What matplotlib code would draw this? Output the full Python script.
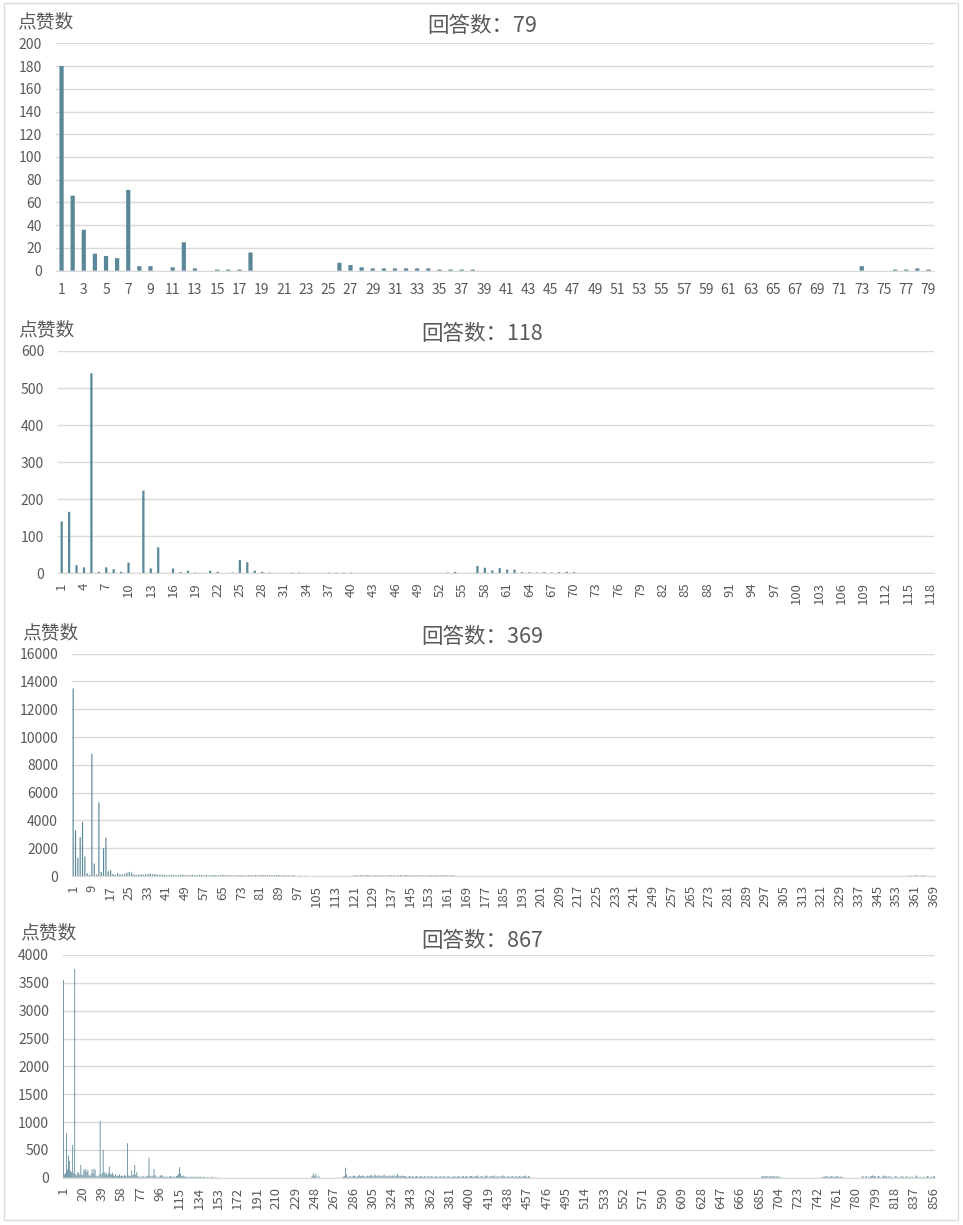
import matplotlib
matplotlib.use("Agg")
import matplotlib.pyplot as plt
from matplotlib.patches import Rectangle

plt.rcParams['font.family'] = ['Noto Sans CJK SC', 'DejaVu Sans']

W, H = 963, 1225
BAR = '#5a8898'
GRID = '#d9d9d9'
TXT = '#595959'

# ---- data: likes per answer, in answer order ----
likes_79 = [180, 66, 36, 15, 13, 11, 71, 4, 4, 0,
            3, 25, 2, 0, 1, 1, 1, 16, 0, 0,
            0, 0, 0, 0, 0, 7, 5, 3, 2, 2,
            2, 2, 2, 2, 1, 1, 1, 1, 0, 0] + [0] * 32 + [4, 0, 0, 1, 1, 2, 1]

likes_118 = [140, 166, 22, 16, 540, 4, 16, 11, 4, 29,
             0, 223, 13, 70, 0, 13, 3, 7, 2, 0,
             7, 4, 0, 2, 36, 30, 7, 4, 2, 0,
             1, 2, 2, 1, 0, 0, 2, 2, 2, 2,
             1, 0, 0, 0, 0, 0, 0, 0, 0, 0,
             0, 0, 2, 4, 0, 0, 20, 15, 8, 14,
             10, 10, 3, 3, 2, 3, 2, 3, 4, 3] + [0] * 48

likes_369_head = [13500, 3300, 1300, 2800, 3900, 1400, 200, 80, 8800, 900,
                  100, 5300, 300, 2000, 2750, 350, 400, 150, 100, 220,
                  120, 90, 160, 230, 300, 250, 120, 80, 100, 130,
                  90, 110, 150, 180, 120, 140, 100, 80, 110, 90,
                  70, 60, 80, 90, 60, 70, 100, 80, 60, 50,
                  70, 90, 60, 50, 80, 70, 60, 90, 50, 60,
                  70, 80, 50, 60, 90, 70, 40, 60, 50, 30,
                  60, 50, 70, 40, 30, 50, 60, 40, 70, 50,
                  60, 80, 50, 70, 60, 40, 70, 60, 80, 50,
                  60, 40, 50, 30, 60, 20, 0, 30, 0, 20]
likes_369_mid = [40, 50, 30, 60, 40, 50, 70, 40, 30, 50,
                 60, 40, 50, 30, 40, 60, 50, 40, 30, 50,
                 60, 40, 70, 50, 40, 30, 50, 40, 60, 50,
                 40, 30, 50, 60, 40, 50, 30, 40, 50, 60,
                 40, 30, 50, 40]
likes_369_tail = [40, 0, 60, 30, 0, 50, 30, 0]
likes_369 = (likes_369_head + [0] * 20 + likes_369_mid + [0] * 194
             + likes_369_tail + [0] * 3)

likes_867_head = [3550, 60, 80, 800, 150, 400, 300, 120, 100, 590,
                  80, 3750, 60, 40, 100, 90, 50, 230, 60, 40,
                  150, 120, 160, 100, 140, 50, 30, 60, 150, 80,
                  160, 140, 40, 30, 20, 50, 1020, 60, 80, 500,
                  100, 60, 90, 40, 80, 200, 70, 50, 90, 40,
                  30, 60, 20, 40, 30, 60, 20, 40, 30, 20,
                  50, 30, 20, 620, 40, 20, 30, 130, 40, 60,
                  230, 50, 100, 30, 20, 10, 20, 10, 30, 20,
                  10, 20, 30, 40, 360, 30, 20, 40, 30, 160,
                  50, 20, 10, 20, 10, 30, 50, 40, 20, 10,
                  20, 10, 20, 10, 20, 30, 20, 10, 20, 20,
                  10, 30, 40, 60, 190, 80, 30, 20, 40, 20]
likes_867_a = [20, 10, 20, 10, 10, 20, 10, 20, 10, 10, 20, 10, 10, 20, 10, 20,
               10, 10, 20, 10, 0, 10, 20, 0, 10, 0, 20, 10, 0, 10, 0, 10]
likes_867_b = [20, 40, 80, 30, 60, 20, 0, 30]
likes_867_c = [10, 20, 30, 180, 60, 20, 10]
likes_867_d = [20, 30, 10, 20, 40, 30, 20, 10, 30, 20, 50, 30, 20, 40, 30, 20, 10, 30, 40, 20,
               30, 50, 40, 30, 20, 60, 40, 30, 20, 50, 30, 40, 20, 30, 60, 40, 20, 30, 20, 40,
               30, 20, 40, 30, 50, 20, 30, 70, 40, 20, 30, 20, 40, 30, 20, 30, 20, 10, 20, 30,
               20, 10, 30, 20, 10, 20, 30, 20, 10, 20, 30, 20, 20, 10, 30, 20, 10, 20, 30, 10,
               20, 30, 20, 10, 20, 30, 20, 10, 20, 20, 30, 10, 20, 30, 20, 10, 20, 30, 20, 10,
               20, 10, 20, 30, 20, 10, 20, 30, 20, 10, 20, 20, 30, 10, 20, 30, 20, 10, 20, 30,
               30, 20, 10, 20, 30, 20, 40, 20, 10, 20, 30, 20, 10, 20, 30, 40, 20, 10, 20, 30,
               20, 30, 40, 20, 10, 20, 30, 20, 10, 30, 20, 40, 30, 20, 10, 20, 30, 20, 10, 20,
               30, 20, 10, 20, 30, 10, 20, 30, 20, 10, 20, 30, 20, 40, 20, 10, 30, 20, 10]
likes_867_e = [20, 20, 30, 20, 20, 30, 20, 20, 20, 30, 20, 20, 30, 20, 20, 20, 30, 20, 10, 10]
likes_867_f = [20, 10, 20, 20, 30, 20, 10, 20, 20, 30, 20, 20, 10, 20, 30, 20, 20, 10, 20, 20, 10]
likes_867_g = [30, 20, 0, 20, 30, 0, 20, 10, 20, 30,
               40, 20, 30, 20, 0, 20, 30, 20, 10, 0,
               20, 40, 20, 30, 20, 10, 20, 30, 0, 20,
               10, 0, 20, 30, 20, 0, 10, 20, 0, 30,
               20, 10, 0, 20, 30, 0, 10, 20, 0, 20,
               10, 0, 20, 40, 20, 0, 10, 20, 0, 0,
               20, 10, 0, 20, 30, 20, 0, 10, 20, 0,
               30, 20]
likes_867 = (likes_867_head + likes_867_a + [0] * 92 + likes_867_b + [0] * 22
             + likes_867_c + likes_867_d + [0] * 226 + likes_867_e + [0] * 40
             + likes_867_f + [0] * 18 + likes_867_g)

titles = ['回答数：79', '回答数：118', '回答数：369', '回答数：867']
y_label = '点赞数'

fig = plt.figure(figsize=(W / 100, H / 100), dpi=100)
fig.patches.append(Rectangle((4 / W, 1 - 1220 / H), 954 / W, 1217 / H,
                             transform=fig.transFigure, fill=False,
                             ec='#dcdcdc', lw=1))


def panel(values, box, ymax, ystep, every, width, rotate, title, title_y, lab_xy):
    left, top, right, bottom = box
    ax = fig.add_axes([left / W, 1 - bottom / H, (right - left) / W, (bottom - top) / H])
    n = len(values)
    ax.bar(range(n), values, width=width, color=BAR, linewidth=0, snap=False)
    ax.set_xlim(-0.5, n - 0.5)
    ax.set_ylim(0, ymax)
    ax.set_yticks(range(0, ymax + 1, ystep))
    ax.yaxis.grid(True, color=GRID, lw=1)
    ax.set_axisbelow(True)
    for s in ['top', 'right', 'left']:
        ax.spines[s].set_visible(False)
    ax.spines['bottom'].set_color(GRID)
    ticks = list(range(0, n, every))
    ax.set_xticks(ticks)
    if rotate:
        ax.set_xticklabels([str(t + 1) for t in ticks], rotation=90, va='top')
        ax.tick_params(axis='x', pad=6.5, labelsize=9.5)
    else:
        ax.set_xticklabels([str(t + 1) for t in ticks])
        ax.tick_params(axis='x', pad=9, labelsize=10)
    ax.tick_params(axis='y', pad=10, labelsize=10)
    ax.tick_params(length=0, colors=TXT)
    fig.text(482 / W, 1 - title_y / H, title, ha='center', va='center',
             fontsize=15.5, color=TXT)
    fig.text(lab_xy[0] / W, 1 - lab_xy[1] / H, y_label, ha='left', va='center',
             fontsize=13.5, color=TXT)
    return ax


panel(likes_79, (56, 43.3, 934, 270.7), 200, 20, 2, 0.38, False, titles[0], 26, (17, 22))
panel(likes_118, (58, 351, 934, 573.3), 600, 100, 3, 0.3, True, titles[1], 334, (18, 330))
panel(likes_369, (72, 653.7, 935, 876), 16000, 2000, 8, 0.5, True, titles[2], 637, (22, 633))
panel(likes_867, (63, 955, 935, 1177.7), 4000, 500, 19, 0.8, True, titles[3], 941, (20, 933))

fig.savefig('out.png', dpi=100, facecolor='white')
